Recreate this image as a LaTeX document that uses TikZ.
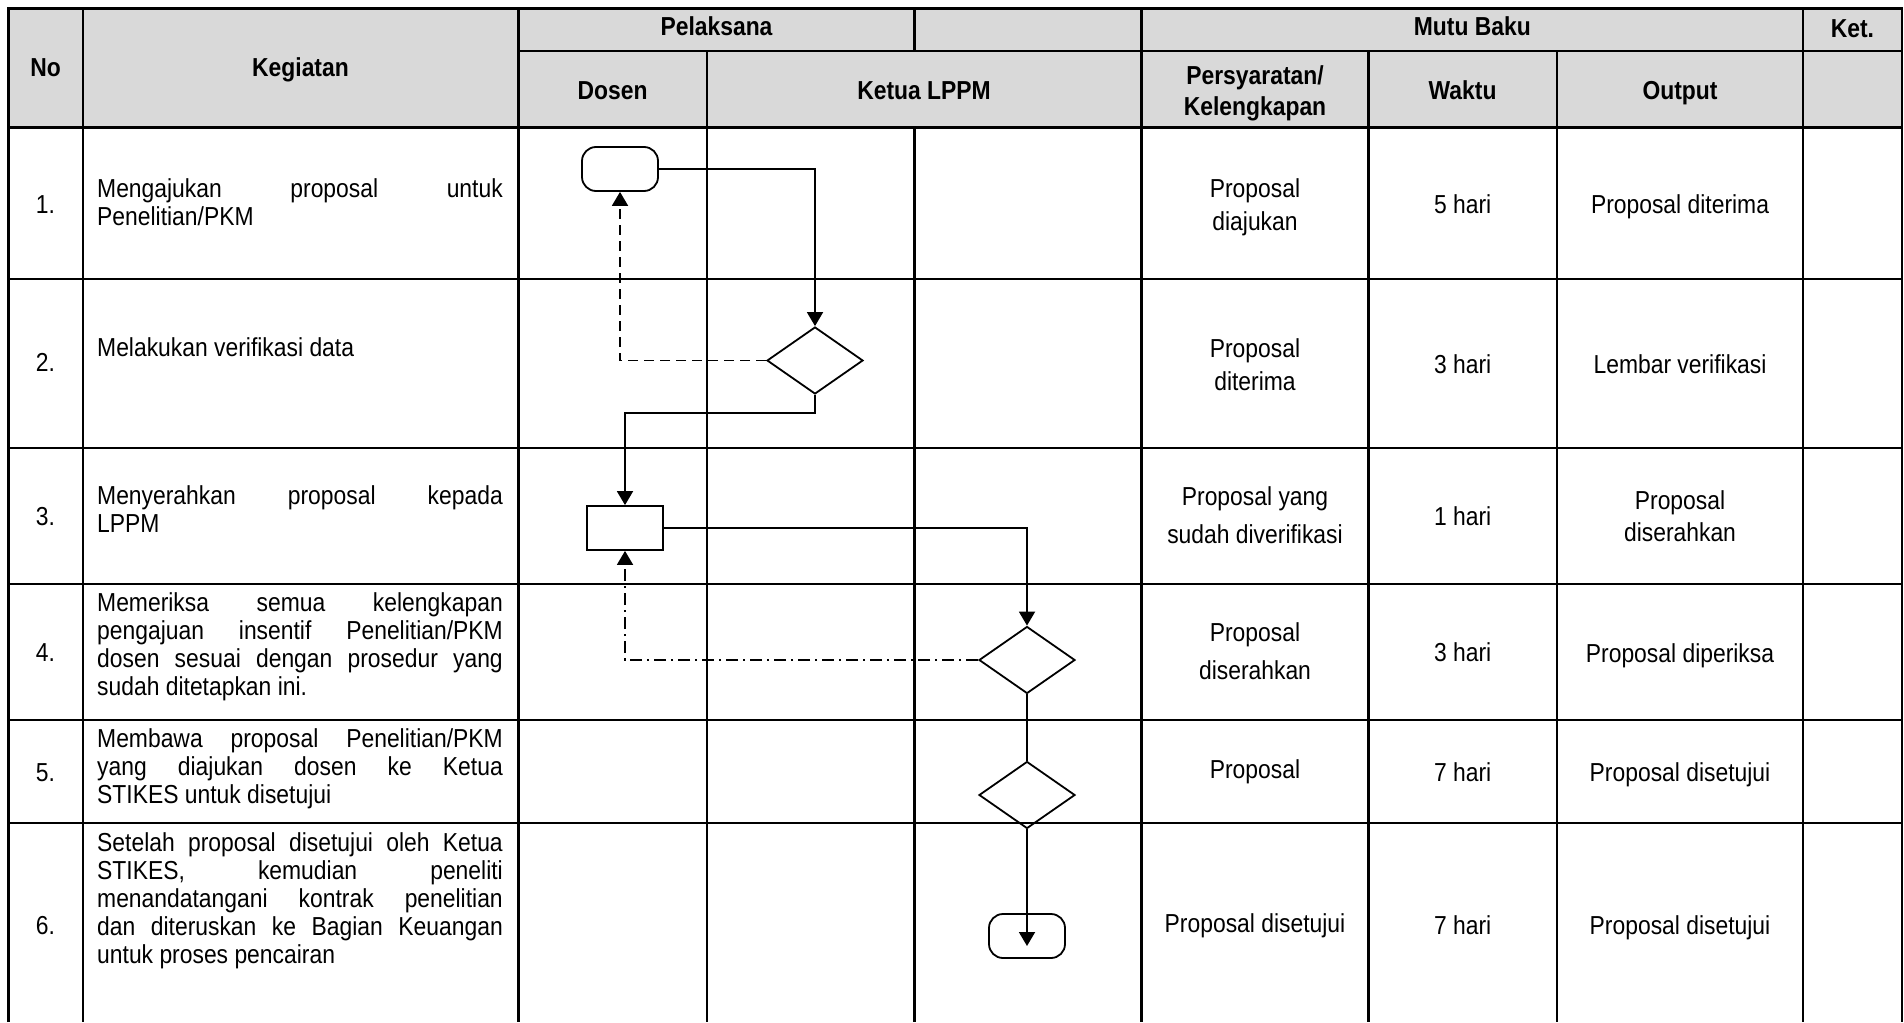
\documentclass[tikz,border=0pt]{standalone}
\usepackage{fontspec}
\setmainfont{Liberation Sans}[FakeStretch=0.88]
\usetikzlibrary{arrows.meta,shapes.geometric,positioning}

\definecolor{hdrgray}{RGB}{217,217,217}

\tikzset{
  tbl/.style={line width=1.1pt},
  hdr/.style={font=\bfseries\fontsize{13}{15.8}\selectfont, align=center, inner sep=0pt, anchor=base},
  cell/.style={font=\fontsize{13}{16.5}\selectfont, align=center, inner sep=0pt, anchor=base},
  act/.style={font=\fontsize{13}{14}\selectfont, text width=202.8pt, align=justify, inner sep=0pt, anchor=base},
  term/.style={draw, line width=0.9pt, rounded corners=7pt, minimum width=38pt, minimum height=22pt, inner sep=0pt},
  proc/.style={draw, line width=0.9pt, minimum width=38pt, minimum height=22pt, inner sep=0pt},
  decide/.style={draw, diamond, line width=0.9pt, minimum width=48pt, minimum height=33.5pt, inner sep=0pt},
  flow/.style={line width=0.9pt, -{Triangle[length=7pt,width=8pt]}},
  balik/.style={flow, dash pattern=on 5pt off 3pt},
  balikdot/.style={flow, dash pattern=on 6pt off 2.5pt on 1pt off 2.5pt}
}

\begin{document}
\begin{tikzpicture}[x=0.5pt,y=-0.5pt]
\useasboundingbox (0,0) rectangle (1904,1022);

% header
\fill[hdrgray] (8.5,8.5) rectangle (1901.6,127.5);
\draw[tbl] (8.5,1022) -- (8.5,8.5) -- (1901.6,8.5) -- (1901.6,1022);
\draw[tbl] (518.5,51) -- (1901.6,51);
\foreach \y in {127.5,279,448,584,720,823}
  \draw[tbl] (8.5,\y) -- (1901.6,\y);
\foreach \x in {82.6,518.5,1141.4,1803.2}
  \draw[tbl] (\x,8.5) -- (\x,1022);
\foreach \x in {706.7,1368.5,1556.7}
  \draw[tbl] (\x,51) -- (\x,1022);
\draw[tbl] (914.4,8.5) -- (914.4,51);
\draw[tbl] (914.4,127.5) -- (914.4,1022);

\node[hdr] (hno) at (45.5,76) {No};
\node[hdr] (hkeg) at (300.5,76) {Kegiatan};
\node[hdr] (hpel) at (716.5,36) {Pelaksana};
\node[hdr] (hmutu) at (1472.3,36) {Mutu Baku};
\node[hdr] (hket) at (1852.4,38) {Ket.};
\node[hdr] (hdosen) at (612.6,99) {Dosen};
\node[hdr] (hketua) at (924,99) {Ketua LPPM};
\node[hdr] (hsyarat) at (1255,116) {Persyaratan/\\Kelengkapan};
\node[hdr] (hwaktu) at (1462.6,99) {Waktu};
\node[hdr] (houtput) at (1680,99) {Output};

% nomor
\node[cell] (n1) at (45.5,213) {1.};
\node[cell] (n2) at (45.5,371) {2.};
\node[cell] (n3) at (45.5,525) {3.};
\node[cell] (n4) at (45.5,661) {4.};
\node[cell] (n5) at (45.5,781.5) {5.};
\node[cell] (n6) at (45.5,934.5) {6.};

% kegiatan
\node[act] (k1) at (300,197.5) {Mengajukan proposal untuk\linebreak Penelitian/PKM};
\node[act] (k2) at (300,356.5) {Melakukan verifikasi data};
\node[act] (k3) at (300,504.5) {Menyerahkan proposal kepada\linebreak LPPM};
\node[act] (k4) at (300,611.5) {Memeriksa semua kelengkapan\linebreak pengajuan insentif Penelitian/PKM\linebreak dosen sesuai dengan prosedur yang\linebreak sudah ditetapkan ini.};
\node[act] (k5) at (300,747.5) {Membawa proposal Penelitian/PKM\linebreak yang diajukan dosen ke Ketua\linebreak STIKES untuk disetujui};
\node[act] (k6) at (300,851) {Setelah proposal disetujui oleh Ketua\linebreak STIKES, kemudian peneliti\linebreak menandatangani kontrak penelitian\linebreak dan diteruskan ke Bagian Keuangan\linebreak untuk proses pencairan};

% mutu baku
\node[cell] (s1) at (1255,230.5) {Proposal\\diajukan};
\node[cell] (w1) at (1462.6,213) {5 hari};
\node[cell] (o1) at (1680,213) {Proposal diterima};
\node[cell] (s2) at (1255,390.5) {Proposal\\diterima};
\node[cell] (w2) at (1462.6,373.5) {3 hari};
\node[cell] (o2) at (1680,373.5) {Lembar verifikasi};
\node[cell] (s3) at (1255,543.5) {Proposal yang\\[2.3pt]sudah diverifikasi};
\node[cell] (w3) at (1462.6,525.5) {1 hari};
\node[cell] (o3) at (1680,541) {Proposal\\[-0.7pt]diserahkan};
\node[cell] (s4) at (1255,679.5) {Proposal\\[2.3pt]diserahkan};
\node[cell] (w4) at (1462.6,661.5) {3 hari};
\node[cell] (o4) at (1680,662.5) {Proposal diperiksa};
\node[cell] (s5) at (1255,778) {Proposal};
\node[cell] (w5) at (1462.6,781.5) {7 hari};
\node[cell] (o5) at (1680,781.5) {Proposal disetujui};
\node[cell] (s6) at (1255,932) {Proposal disetujui};
\node[cell] (w6) at (1462.6,934.5) {7 hari};
\node[cell] (o6) at (1680,934.5) {Proposal disetujui};

% alur
\node[term] (mulai) at (620,169) {};
\node[decide] (verif) at (815,360.5) {};
\node[proc] (serah) at (625,528) {};
\node[decide] (periksa) at (1027,660) {};
\node[decide] (setuju) at (1027,795) {};
\node[term] (selesai) at (1027,936) {};

\draw[flow] (mulai.east) -| (verif.north);
\draw[balik] (verif.west) -| (mulai.south);
\draw[flow] (verif.south) -- ++(0,18) -| (serah.north);
\draw[flow] (serah.east) -| (periksa.north);
\draw[balikdot] (periksa.west) -| (serah.south);
\draw[line width=0.9pt] (periksa.south) -- (setuju.north);
\draw[flow] (setuju.south) -- ([yshift=-5pt]selesai.center);
\end{tikzpicture}
\end{document}
